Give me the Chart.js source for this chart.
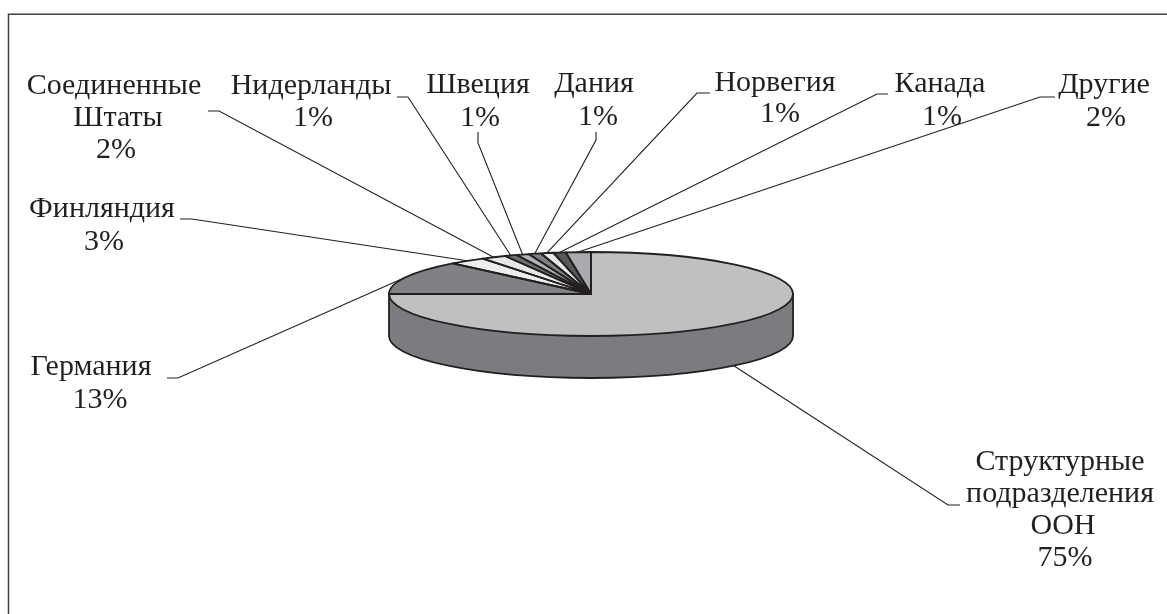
<!DOCTYPE html>
<html lang="ru">
<head>
<meta charset="utf-8">
<title>Диаграмма</title>
<style>
  html, body { margin: 0; padding: 0; background: #fff; }
  canvas { display: block; }
</style>
<script src="https://cdn.jsdelivr.net/npm/chart.js@4/dist/chart.umd.min.js"></script>
</head>
<body>
<canvas id="pie3d" width="1167" height="614"></canvas>
<script>
'use strict';

// Data
const categories = ['Структурные подразделения ООН', 'Германия', 'Финляндия', 'Соединенные Штаты',
  'Нидерланды', 'Швеция', 'Дания', 'Норвегия', 'Канада', 'Другие'];
const shares = [75, 13, 3, 2, 1, 1, 1, 1, 1, 2];

// Styles
const sliceColors = ['#bfc0c2', '#808184', '#ededee', '#e6e7e8', '#6d6e71', '#b1b3b6', '#808184', '#e6e7e8', '#58595b', '#a9abae'];
const sideColor = '#7b7c7f';
const inkColor = '#231f20';
const squash = 0.208;
const depth = 42;

// label placement: wrapped lines, centre x of each line (last one is the percent),
// first baseline, line gap, leader start and elbow
const labelLayout = [
  { lines: ['Структурные', 'подразделения', 'ООН'], xs: [1060, 1060, 1063, 1065], y: 470, gap: 32, from: [960, 505], elbow: [948, 505], side: true },
  { lines: ['Германия'], xs: [91, 100], y: 375, gap: 33, from: [167, 378], elbow: [178, 378] },
  { lines: ['Финляндия'], xs: [102, 104], y: 217, gap: 33, from: [180, 219], elbow: [192, 219] },
  { lines: ['Соединенные', 'Штаты'], xs: [114, 118, 116], y: 94, gap: 32, from: [208, 111], elbow: [219, 111] },
  { lines: ['Нидерланды'], xs: [311, 313], y: 94, gap: 32, from: [397, 97], elbow: [408, 97] },
  { lines: ['Швеция'], xs: [478, 480], y: 93, gap: 33, from: [478, 132], elbow: [478, 143] },
  { lines: ['Дания'], xs: [594, 598], y: 92, gap: 33, from: [596, 132], elbow: [596, 140] },
  { lines: ['Норвегия'], xs: [775, 780], y: 91, gap: 31, from: [710, 93], elbow: [697, 93] },
  { lines: ['Канада'], xs: [940, 942], y: 92, gap: 33, from: [888, 94], elbow: [877, 94] },
  { lines: ['Другие'], xs: [1104, 1106], y: 93, gap: 33, from: [1055, 97], elbow: [1040, 97] }
];

function rimPoint(arc, yOffset) {
  const mid = (arc.startAngle + arc.endAngle) / 2;
  return [arc.x + arc.outerRadius * Math.cos(mid), arc.y + arc.outerRadius * squash * Math.sin(mid) + yOffset];
}

const pie3dPlugin = {
  id: 'pie3d',
  beforeDraw(chart) {
    // frame only shows on the top and left in the scan
    const ctx = chart.ctx;
    ctx.save();
    ctx.strokeStyle = '#3f3f41';
    ctx.lineWidth = 1.5;
    ctx.beginPath();
    ctx.moveTo(8.5, 614);
    ctx.lineTo(8.5, 14.2);
    ctx.lineTo(1167, 14.2);
    ctx.stroke();
    ctx.restore();
  },
  beforeDatasetDraw(chart) {
    const ctx = chart.ctx;
    const first = chart.getDatasetMeta(0).data[0];
    const { x, y, outerRadius: r } = first;

    // side wall of the disc
    ctx.save();
    ctx.beginPath();
    ctx.moveTo(x - r, y);
    ctx.lineTo(x - r, y + depth);
    ctx.ellipse(x, y + depth, r, r * squash, 0, Math.PI, 0, true);
    ctx.lineTo(x + r, y);
    ctx.closePath();
    ctx.fillStyle = sideColor;
    ctx.fill();
    ctx.strokeStyle = inkColor;
    ctx.lineWidth = 1.8;
    ctx.stroke();
    ctx.restore();

    // flatten the pie for the library's own arc drawing
    ctx.save();
    ctx.translate(x, y);
    ctx.scale(1, squash);
    ctx.translate(-x, -y);
  },
  afterDatasetDraw(chart) {
    const ctx = chart.ctx;
    ctx.restore();
    ctx.save();
    ctx.strokeStyle = inkColor;
    ctx.lineWidth = 1.8;
    ctx.lineJoin = 'round';
    chart.getDatasetMeta(0).data.forEach(arc => {
      ctx.beginPath();
      ctx.moveTo(arc.x, arc.y);
      ctx.ellipse(arc.x, arc.y, arc.outerRadius, arc.outerRadius * squash, 0, arc.startAngle, arc.endAngle);
      ctx.closePath();
      ctx.stroke();
    });
    ctx.restore();
  },
  afterDraw(chart) {
    const ctx = chart.ctx;
    const arcs = chart.getDatasetMeta(0).data;
    ctx.save();
    ctx.fillStyle = inkColor;
    ctx.font = '30px "Liberation Serif"';
    ctx.textAlign = 'center';
    ctx.textBaseline = 'alphabetic';
    labelLayout.forEach((label, i) => {
      const lines = label.lines.concat(shares[i] + '%');
      lines.forEach((line, n) => ctx.fillText(line, label.xs[n], label.y + n * label.gap));

      const end = rimPoint(arcs[i], label.side ? depth : 0);
      ctx.strokeStyle = inkColor;
      ctx.lineWidth = 1.1;
      ctx.beginPath();
      ctx.moveTo(label.from[0], label.from[1]);
      ctx.lineTo(label.elbow[0], label.elbow[1]);
      ctx.lineTo(end[0], end[1]);
      ctx.stroke();
    });
    ctx.restore();
  }
};

new Chart(document.getElementById('pie3d'), {
  type: 'pie',
  data: {
    labels: categories,
    datasets: [{
      data: shares,
      backgroundColor: sliceColors,
      borderWidth: 0,
      hoverOffset: 0,
      clip: false
    }]
  },
  options: {
    responsive: false,
    animation: false,
    devicePixelRatio: 1,
    // chart area is 404 square, centred on the disc's top face
    layout: { padding: { left: 389, right: 374, top: 92, bottom: 118 } },
    plugins: { legend: { display: false }, tooltip: { enabled: false } }
  },
  plugins: [pie3dPlugin]
});
</script>
</body>
</html>
